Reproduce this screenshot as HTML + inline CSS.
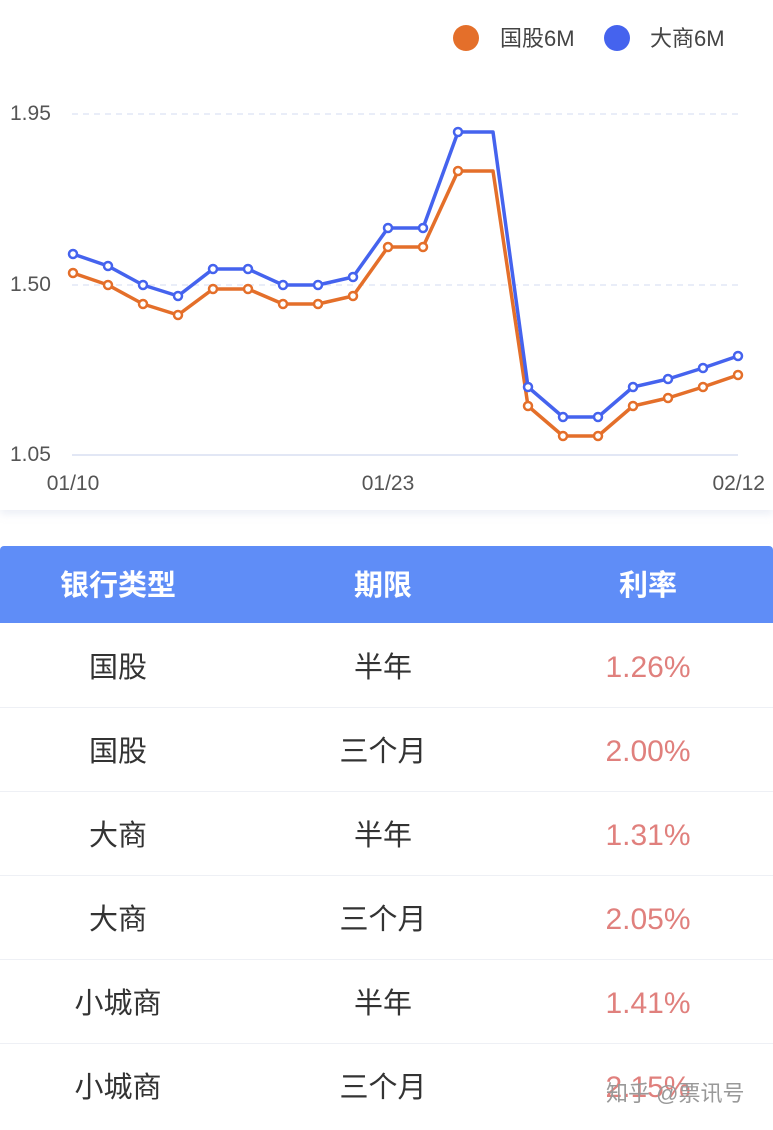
<!DOCTYPE html>
<html><head><meta charset="utf-8"><style>
body{margin:0;width:773px;height:1123px;background:#fff;overflow:hidden;font-family:"Liberation Sans","Noto Sans CJK SC",sans-serif;position:relative}
.card{position:absolute;left:0;top:0;width:773px;height:510px;background:#fff;box-shadow:0 4px 8px rgba(200,210,230,0.35)}
.hdr{position:absolute;left:0;top:546px;width:773px;height:77px;background:#5f8df7;border-radius:4px 4px 0 0}
.row{position:absolute;left:0;width:773px;height:84px;border-bottom:1px solid #eef0f5}
.c{position:absolute;top:3px;width:240px;text-align:center;font-size:29px;color:#333}
.h .c{color:#fff;font-size:29px;font-weight:bold;top:2px}
.r{color:#e0807d !important;font-weight:300;font-size:30px}
</style></head><body>
<div class="card"></div>
<svg width="773" height="510" style="position:absolute;left:0;top:0" font-family="Liberation Sans, Noto Sans CJK SC, sans-serif">
<circle cx="466" cy="38" r="13" fill="#e46f2a"/>
<text x="500" y="46" font-size="22" fill="#444">国股6M</text>
<circle cx="617" cy="38" r="13" fill="#4563ee"/>
<text x="650" y="46" font-size="22" fill="#444">大商6M</text>
<line x1="72" y1="114" x2="738" y2="114" stroke="#e2e7f5" stroke-width="1.5" stroke-dasharray="6,5"/>
<line x1="72" y1="285" x2="738" y2="285" stroke="#e2e7f5" stroke-width="1.5" stroke-dasharray="6,5"/>
<line x1="72" y1="455" x2="738" y2="455" stroke="#e2e7f5" stroke-width="2"/>
<g font-size="21" fill="#555">
<text x="10" y="120">1.95</text><text x="10" y="291">1.50</text><text x="10" y="461">1.05</text>
<text x="73" y="490" text-anchor="middle">01/10</text><text x="388" y="490" text-anchor="middle">01/23</text><text x="765" y="490" text-anchor="end">02/12</text>
</g>
<polyline fill="none" stroke="#e46f2a" stroke-width="3.5" stroke-linejoin="round" points="73,273 108,285 143,304 178,315 213,289 248,289 283,304 318,304 353,296 388,247 423,247 458,171 493,171 528,406 563,436 598,436 633,406 668,398 703,387 738,375"/>
<polyline fill="none" stroke="#4563ee" stroke-width="3.5" stroke-linejoin="round" points="73,254 108,266 143,285 178,296 213,269 248,269 283,285 318,285 353,277 388,228 423,228 458,132 493,132 528,387 563,417 598,417 633,387 668,379 703,368 738,356"/>
<g fill="#fff" stroke="#e46f2a" stroke-width="2.5">
<circle cx="73" cy="273" r="4"/><circle cx="108" cy="285" r="4"/><circle cx="143" cy="304" r="4"/><circle cx="178" cy="315" r="4"/><circle cx="213" cy="289" r="4"/><circle cx="248" cy="289" r="4"/><circle cx="283" cy="304" r="4"/><circle cx="318" cy="304" r="4"/><circle cx="353" cy="296" r="4"/><circle cx="388" cy="247" r="4"/><circle cx="423" cy="247" r="4"/><circle cx="458" cy="171" r="4"/><circle cx="528" cy="406" r="4"/><circle cx="563" cy="436" r="4"/><circle cx="598" cy="436" r="4"/><circle cx="633" cy="406" r="4"/><circle cx="668" cy="398" r="4"/><circle cx="703" cy="387" r="4"/><circle cx="738" cy="375" r="4"/>
</g>
<g fill="#fff" stroke="#4563ee" stroke-width="2.5">
<circle cx="73" cy="254" r="4"/><circle cx="108" cy="266" r="4"/><circle cx="143" cy="285" r="4"/><circle cx="178" cy="296" r="4"/><circle cx="213" cy="269" r="4"/><circle cx="248" cy="269" r="4"/><circle cx="283" cy="285" r="4"/><circle cx="318" cy="285" r="4"/><circle cx="353" cy="277" r="4"/><circle cx="388" cy="228" r="4"/><circle cx="423" cy="228" r="4"/><circle cx="458" cy="132" r="4"/><circle cx="528" cy="387" r="4"/><circle cx="563" cy="417" r="4"/><circle cx="598" cy="417" r="4"/><circle cx="633" cy="387" r="4"/><circle cx="668" cy="379" r="4"/><circle cx="703" cy="368" r="4"/><circle cx="738" cy="356" r="4"/>
</g>
</svg>
<div class="hdr h"><div class="c" style="left:-2px;line-height:77px">银行类型</div><div class="c" style="left:263px;line-height:77px">期限</div><div class="c" style="left:528px;line-height:77px">利率</div></div>
<div class="row" style="top:623px"><div class="c" style="left:-2px;line-height:84px">国股</div><div class="c" style="left:263px;line-height:84px">半年</div><div class="c r" style="left:528px;line-height:84px">1.26%</div></div>
<div class="row" style="top:707px"><div class="c" style="left:-2px;line-height:84px">国股</div><div class="c" style="left:263px;line-height:84px">三个月</div><div class="c r" style="left:528px;line-height:84px">2.00%</div></div>
<div class="row" style="top:791px"><div class="c" style="left:-2px;line-height:84px">大商</div><div class="c" style="left:263px;line-height:84px">半年</div><div class="c r" style="left:528px;line-height:84px">1.31%</div></div>
<div class="row" style="top:875px"><div class="c" style="left:-2px;line-height:84px">大商</div><div class="c" style="left:263px;line-height:84px">三个月</div><div class="c r" style="left:528px;line-height:84px">2.05%</div></div>
<div class="row" style="top:959px"><div class="c" style="left:-2px;line-height:84px">小城商</div><div class="c" style="left:263px;line-height:84px">半年</div><div class="c r" style="left:528px;line-height:84px">1.41%</div></div>
<div class="row" style="top:1043px;border:none"><div class="c" style="left:-2px;line-height:84px">小城商</div><div class="c" style="left:263px;line-height:84px">三个月</div><div class="c r" style="left:528px;line-height:84px">2.15%</div></div>
<div style="position:absolute;left:606px;top:1076px;font-size:22px;color:#999">知乎 @票讯号</div>
</body></html>
